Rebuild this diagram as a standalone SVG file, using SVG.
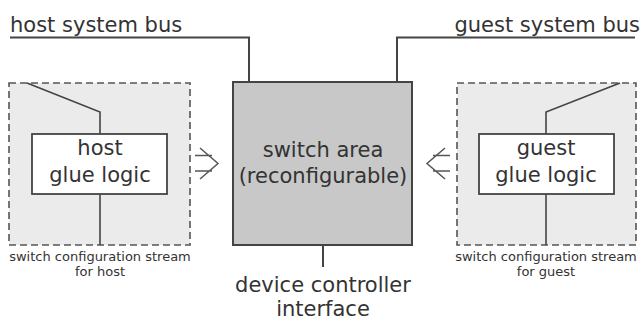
<svg xmlns="http://www.w3.org/2000/svg" width="643" height="320" viewBox="0 0 643 320">
<style>
text{font-family:"DejaVu Sans","Liberation Sans",sans-serif;fill:#333}
.big{font-size:21px}
.mid{font-size:21px;text-anchor:middle}
.small{font-size:13px;text-anchor:middle}
.wire{fill:none;stroke:#444;stroke-width:2}
.thin{fill:none;stroke:#444;stroke-width:1.6}
.dash{fill:#ebebeb;stroke:#555;stroke-width:1.6;stroke-dasharray:7 4}
.glue{fill:#fff;stroke:#444;stroke-width:1.8}
.arrow{fill:none;stroke:#555;stroke-width:1.5}
</style>
<rect width="643" height="320" fill="#fff"/>
<g id="host-bus">
<text class="big" x="10" y="32">host system bus</text>
</g>
<g id="guest-bus">
<text class="big" x="640" y="32" text-anchor="end">guest system bus</text>
</g>
<g id="host-area">
<rect class="dash" x="9" y="83" width="181" height="162"/>
</g>
<g id="guest-area">
<rect class="dash" x="457" y="83" width="179" height="162"/>
</g>
<g id="connectors">
<polyline class="wire" points="10,37.5 249,37.5 249,82"/>
<polyline class="wire" points="635,37.5 397,37.5 397,82"/>
<line class="wire" x1="323" y1="245" x2="323" y2="267"/>
<polyline class="thin" points="27,83 100,112 100,134"/>
<line class="thin" x1="100" y1="194" x2="100" y2="245"/>
<polyline class="thin" points="620,83 546,112 546,134"/>
<line class="thin" x1="546" y1="194" x2="546" y2="245"/>
<path class="arrow" d="M195,155.5H212M195,171H212M200,148L218,163.5L200,179"/>
<path class="arrow" d="M450,155.5H433M450,171H433M445,148L427,163.5L445,179"/>
</g>
<g id="switch-area">
<rect x="233" y="82" width="179" height="163" fill="#c8c8c8" stroke="#444" stroke-width="2"/>
<text class="mid" x="323" y="157">switch area</text>
<text class="mid" x="323" y="183">(reconfigurable)</text>
</g>
<g id="host-glue">
<rect class="glue" x="32" y="134" width="135" height="60"/>
<text class="mid" x="100" y="155">host</text>
<text class="mid" x="100" y="182">glue logic</text>
</g>
<g id="guest-glue">
<rect class="glue" x="479" y="134" width="135" height="60"/>
<text class="mid" x="546" y="155">guest</text>
<text class="mid" x="546" y="182">glue logic</text>
</g>
<g id="host-stream">
<text class="small" x="100" y="261">switch configuration stream</text>
<text class="small" x="100" y="276">for host</text>
</g>
<g id="guest-stream">
<text class="small" x="546" y="261">switch configuration stream</text>
<text class="small" x="546" y="276">for guest</text>
</g>
<g id="device-controller">
<text class="mid" x="323" y="292">device controller</text>
<text class="mid" x="323" y="316">interface</text>
</g>
</svg>
